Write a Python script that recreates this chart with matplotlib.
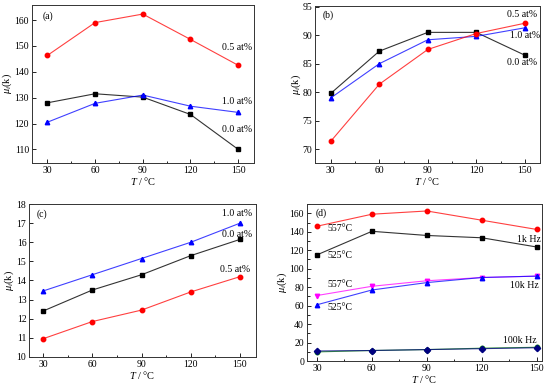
import numpy as np
import matplotlib
matplotlib.use('Agg')
import matplotlib.pyplot as plt
from matplotlib.ticker import MultipleLocator

plt.rcParams['font.family'] = ['Liberation Serif', 'DejaVu Serif']
plt.rcParams['mathtext.fontset'] = 'custom'
plt.rcParams['mathtext.rm'] = 'Liberation Serif'
plt.rcParams['mathtext.it'] = 'Liberation Serif:italic'

T = [30, 60, 90, 120, 150]

# (a)
a_00 = [128.0, 131.5, 130.2, 123.5, 110.0]
a_05 = [146.3, 159.0, 162.3, 152.5, 142.5]
a_10 = [120.5, 127.8, 131.0, 126.7, 124.3]

# (b)
b_00 = [79.8, 87.2, 90.5, 90.5, 86.5]
b_05 = [71.4, 81.4, 87.5, 90.3, 92.1]
b_10 = [79.0, 85.0, 89.2, 89.8, 91.3]

# (c)
c_00 = [12.4, 13.5, 14.3, 15.3, 16.15]
c_05 = [10.95, 11.85, 12.45, 13.4, 14.2]
c_10 = [13.45, 14.3, 15.15, 16.0, 17.0]

# (d)
d_557_1k = [146.0, 159.0, 162.5, 152.5, 142.5]
d_525_1k = [115.0, 140.5, 136.0, 133.5, 123.5]
d_557_10k = [71.0, 81.0, 87.0, 90.5, 92.0]
d_525_10k = [61.0, 77.0, 85.0, 90.5, 92.0]
d_557_100k = [10.0, 11.5, 12.5, 14.0, 15.0]
d_525_100k = [11.0, 11.5, 12.5, 13.5, 14.5]

fig = plt.figure(figsize=(5.5, 3.85), dpi=100)

ax1 = fig.add_axes([0.058, 0.577, 0.404, 0.41])
ax2 = fig.add_axes([0.573, 0.577, 0.409, 0.407])
ax3 = fig.add_axes([0.053, 0.073, 0.412, 0.397])
ax4 = fig.add_axes([0.558, 0.062, 0.427, 0.408])

red = '#ff0000'
blue = '#0000ff'
blk = '#000000'
lw = 0.8
ms = 3.2


def line(ax, y, c, m, lc=None):
    ax.plot(T, y, color=lc if lc else c, lw=lw, alpha=0.75 if c != blk else 0.8)
    ax.plot(T, y, ls='none', marker=m, color=c, ms=ms)


def style(ax, ylim, xlim, ymaj, ymin=None):
    ax.set_xlim(xlim)
    ax.set_ylim(ylim)
    ax.xaxis.set_major_locator(MultipleLocator(30))
    ax.xaxis.set_minor_locator(MultipleLocator(15))
    ax.yaxis.set_major_locator(MultipleLocator(ymaj))
    if ymin:
        ax.yaxis.set_minor_locator(MultipleLocator(ymin))
    ax.tick_params(which='both', direction='in', labelsize=7, top=False, right=False, pad=2)
    ax.tick_params(which='major', length=3, width=0.6)
    ax.tick_params(which='minor', length=1.8, width=0.6)
    for s in ax.spines.values():
        s.set_linewidth(0.7)
        s.set_color('#333333')
    ax.set_xlabel(r'$T$ / $\degree$C', fontsize=7.5, labelpad=0)
    ax.set_ylabel(r'$\mu_i$(k)', fontsize=7.5, labelpad=0)


# (a)
line(ax1, a_05, red, 'o')
line(ax1, a_00, blk, 's')
line(ax1, a_10, blue, '^')
style(ax1, (104.8, 165.8), (20.3, 160), 10)
kw = dict(fontsize=7, va='center', ha='left')
ax1.text(26.9, 161.3, '(a)', **kw)
ax1.text(139.8, 149.3, '0.5 at%', **kw)
ax1.text(139.6, 128.4, '1.0 at%', **kw)
ax1.text(139.6, 117.7, '0.0 at%', **kw)

# (b)
line(ax2, b_00, blk, 's')
line(ax2, b_10, blue, '^')
line(ax2, b_05, red, 'o')
style(ax2, (67.6, 95.1), (20.3, 159.5), 5)
ax2.text(25.1, 93.5, '(b)', **kw)
ax2.text(139.3, 93.6, '0.5 at%', **kw)
ax2.text(141.0, 89.9, '1.0 at%', **kw)
ax2.text(139.3, 85.2, '0.0 at%', **kw)

# (c)
line(ax3, c_10, blue, '^')
line(ax3, c_00, blk, 's')
line(ax3, c_05, red, 'o')
style(ax3, (10, 18), (21.5, 159.6), 1)
ax3.text(26.0, 17.48, '(c)', **kw)
ax3.text(138.9, 17.48, '1.0 at%', **kw)
ax3.text(139.3, 16.43, '0.0 at%', **kw)
ax3.text(137.9, 14.6, '0.5 at%', **kw)

# (d)
line(ax4, d_557_1k, red, 'o')
line(ax4, d_525_1k, blk, 's')
line(ax4, d_557_10k, '#ff00ff', 'v')
line(ax4, d_525_10k, blue, '^')
line(ax4, d_557_100k, '#008000', 'o')
line(ax4, d_525_100k, '#000080', 'D')
style(ax4, (0, 170), (24.5, 152.7), 20, 10)
ax4.text(29.1, 160, '(d)', **kw)
ax4.text(35.5, 143, '557°C', **kw)
ax4.text(35.5, 114.8, '525°C', **kw)
ax4.text(139.1, 132, '1k Hz', **kw)
ax4.text(35.5, 82.5, '557°C', **kw)
ax4.text(135.4, 81.4, '10k Hz', **kw)
ax4.text(35.5, 57.6, '525°C', **kw)
ax4.text(131.4, 22.4, '100k Hz', **kw)

fig.savefig('out.png', dpi=100)
plt.close()
